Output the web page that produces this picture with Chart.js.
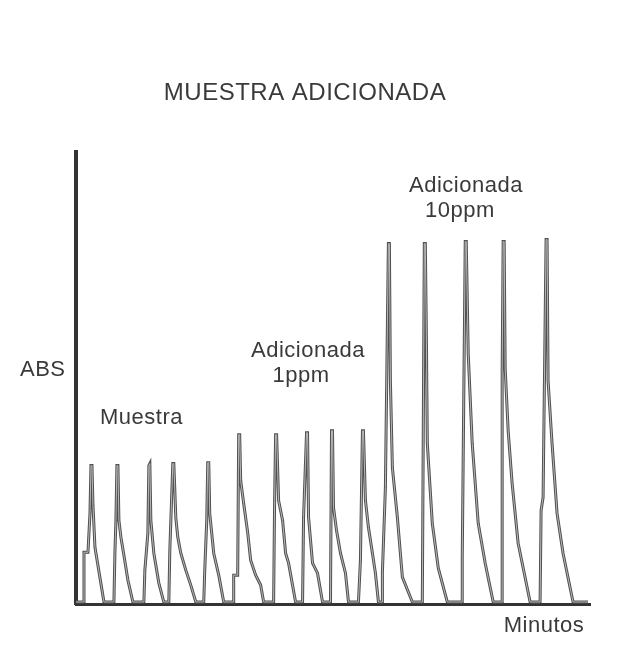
<!DOCTYPE html>
<html>
<head>
<meta charset="utf-8">
<script src="https://cdn.jsdelivr.net/npm/chart.js@4/dist/chart.umd.min.js"></script>
<style>
  html, body { margin: 0; padding: 0; background: #fff; }
  canvas { display: block; }
</style>
</head>
<body>
<canvas id="chart" width="629" height="648"></canvas>
<script>
// Señal registrada: tiempo (unidades del registro) y absorbancia (unidades relativas)
// Muestra sin adicionar (5 inyecciones)
const muestraT = [0, 8, 8, 12, 14, 15, 16, 17, 19, 28,
                  38, 39, 40, 41, 42, 43, 45, 48, 52, 57,
                  68, 69, 72, 73, 74, 75, 78, 83, 88,
                  93, 94, 97, 98, 100, 102, 105, 110, 115, 120,
                  128, 129, 131, 132, 133, 134, 138, 143, 148, 158];
const muestraAbs = [0, 0, 50, 50, 89, 137, 137, 97, 55, 0,
                    0, 50, 82, 137, 137, 82, 65, 47, 22, 0,
                    0, 32, 69, 137, 139, 82, 49, 19, 0,
                    0, 52, 139, 139, 85, 65, 49, 32, 17, 0,
                    0, 32, 82, 140, 140, 89, 49, 27, 0, 0];

// Adicionada 1ppm (5 inyecciones)
const ppm1T = [158, 162, 163, 164, 165, 168, 172, 175, 180, 185, 188,
               198, 199, 200, 201, 203, 207, 210, 213, 220,
               227, 228, 231, 232, 233, 237, 242, 247,
               255, 256, 257, 258, 261, 265, 270, 273,
               283, 285, 287, 288, 290, 293, 297, 300, 303, 307];
const ppm1Abs = [27, 27, 168, 168, 122, 99, 70, 42, 27, 17, 0,
                 0, 102, 168, 168, 102, 82, 49, 39, 0,
                 0, 85, 170, 170, 85, 39, 29, 0,
                 0, 172, 172, 95, 72, 49, 29, 0,
                 0, 42, 172, 172, 102, 75, 49, 29, 0, 0];

// Adicionada 10ppm (5 inyecciones)
const ppm10T = [307, 310, 313, 314, 315, 317, 322, 327, 337,
                347, 349, 350, 351, 352, 357, 363, 372,
                387, 387, 390, 391, 393, 397, 403, 410, 418,
                427, 427, 428, 429, 430, 433, 437, 443, 455,
                465, 466, 468, 471, 472, 473, 477, 482, 488, 498, 513];
const ppm10Abs = [30, 115, 360, 360, 222, 135, 85, 25, 0,
                  0, 360, 360, 272, 159, 79, 34, 0,
                  0, 44, 362, 362, 249, 159, 79, 39, 0,
                  0, 232, 362, 362, 235, 172, 119, 59, 0,
                  0, 92, 105, 364, 364, 222, 159, 89, 49, 0, 0];

const titulo = 'MUESTRA ADICIONADA';
const etiquetas = [
  { text: 'ABS', x: 20, y: 376, align: 'left' },
  { text: 'Muestra', x: 100, y: 424, align: 'left' },
  { text: 'Adicionada', x: 308, y: 357, align: 'center' },
  { text: '1ppm', x: 301, y: 382, align: 'center' },
  { text: 'Adicionada', x: 466, y: 192, align: 'center' },
  { text: '10ppm', x: 460, y: 217, align: 'center' },
  { text: 'Minutos', x: 544, y: 632, align: 'center' }
];

const tiempo = muestraT.concat(ppm1T, ppm10T);
const abs = muestraAbs.concat(ppm1Abs, ppm10Abs);
const puntos = tiempo.map((t, i) => ({ x: t, y: abs[i] }));

// Textos del gráfico
const textos = {
  id: 'textos',
  afterDraw(chart) {
    const ctx = chart.ctx;
    ctx.save();
    ctx.fillStyle = '#3a3a3a';
    ctx.textBaseline = 'alphabetic';
    ctx.font = '24px "Liberation Sans", Arial, sans-serif';
    ctx.textAlign = 'center';
    ctx.letterSpacing = '0.5px';
    ctx.fillText(titulo, 305, 100);
    ctx.font = '22px "Liberation Sans", Arial, sans-serif';
    etiquetas.forEach(e => {
      ctx.textAlign = e.align;
      ctx.fillText(e.text, e.x, e.y);
    });
    ctx.restore();
  }
};

const ctx = document.getElementById('chart').getContext('2d');
new Chart(ctx, {
  type: 'scatter',
  data: {
    datasets: [{
      // trazo exterior oscuro
      data: puntos,
      order: 1,
      showLine: true,
      borderColor: '#505050',
      borderWidth: 3,
      pointRadius: 0,
      tension: 0,
      fill: false
    }, {
      // interior claro, como el registro original (línea hueca)
      data: puntos,
      order: 0,
      showLine: true,
      borderColor: '#b8b8b8',
      borderWidth: 1,
      pointRadius: 0,
      tension: 0,
      fill: false
    }]
  },
  options: {
    responsive: false,
    animation: false,
    layout: { padding: { left: 68, right: 39, top: 152, bottom: 36 } },
    plugins: { legend: { display: false }, tooltip: { enabled: false } },
    scales: {
      x: {
        type: 'linear', min: 0, max: 515,
        grid: { display: false },
        ticks: { display: false },
        border: { display: true, color: '#333', width: 3 }
      },
      y: {
        type: 'linear', min: -2, max: 452,
        grid: { display: false },
        ticks: { display: false },
        border: { display: true, color: '#333', width: 4 }
      }
    }
  },
  plugins: [textos]
});
</script>
</body>
</html>
